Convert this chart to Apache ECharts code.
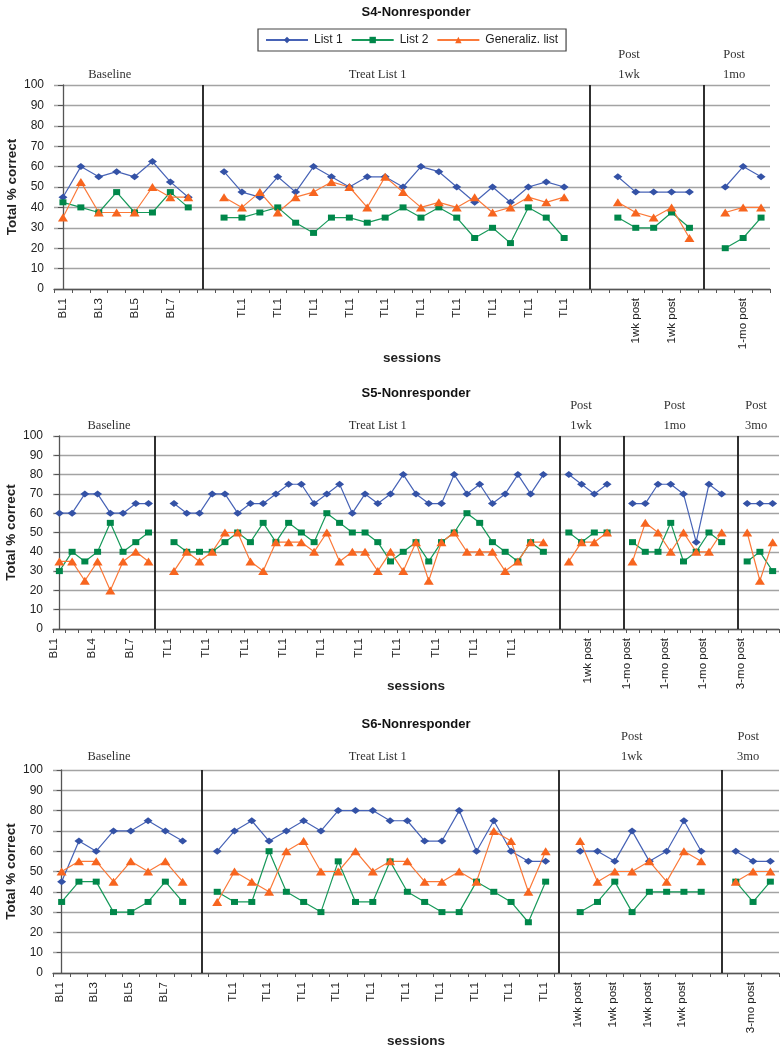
<!DOCTYPE html>
<html><head><meta charset="utf-8">
<script src="https://cdn.jsdelivr.net/npm/echarts@6/dist/echarts.min.js"></script>
<style>html,body{margin:0;padding:0;background:#fff}#c{width:784px;height:1050px}</style>
</head><body><div id="c"></div>
<script>
const rep = (s, n) => Array(n).fill(s);

// ---------- S4 ----------
const s4Categories = ['BL1','BL2','BL3','BL4','BL5','BL6','BL7','BL8','', ...rep('TL1',20), '', '', ...rep('1wk post',5), '', ...rep('1-mo post',3)];
const s4List1 = [45,60,55,57.5,55,62.5,52.5,45, null,
  57.5,47.5,45,55,47.5,60,55,50,55,55,50,60,57.5,50,42.5,50,42.5,50,52.5,50, null,null,
  55,47.5,47.5,47.5,47.5, null, 50,60,55];
const s4List2 = [42.5,40,37.5,47.5,37.5,37.5,47.5,40, null,
  35,35,37.5,40,32.5,27.5,35,35,32.5,35,40,35,40,35,25,30,22.5,40,35,25, null,null,
  35,30,30,37.5,30, null, 20,25,35];
const s4Gen = [35,52.5,37.5,37.5,37.5,50,45,45, null,
  45,40,47.5,37.5,45,47.5,52.5,50,40,55,47.5,40,42.5,40,45,37.5,40,45,42.5,45, null,null,
  42.5,37.5,35,40,25, null, 37.5,40,40];
const s4Phases = ['Baseline', 'Treat List 1', 'Post\n1wk', 'Post\n1mo'];

// ---------- S5 ----------
const s5Categories = ['BL1','BL2','BL3','BL4','BL5','BL6','BL7','BL8','', ...rep('TL1',30), '', ...rep('1wk post',4), '', ...rep('1-mo post',8), '', ...rep('3-mo post',3)];
const s5List1 = [60,60,70,70,60,60,65,65, null,
  65,60,60,70,70,60,65,65,70,75,75,65,70,75,60,70,65,70,80,70,65,65,80,70,75,65,70,80,70,80, null,
  80,75,70,75, null, 65,65,75,75,70,45,75,70, null, 65,65,65];
const s5List2 = [30,40,35,40,55,40,45,50, null,
  45,40,40,40,45,50,45,55,45,55,50,45,60,55,50,50,45,35,40,45,35,45,50,60,55,45,40,35,45,40, null,
  50,45,50,50, null, 45,40,40,55,35,40,50,45, null, 35,40,30];
const s5Gen = [35,35,25,35,20,35,40,35, null,
  30,40,35,40,50,50,35,30,45,45,45,40,50,35,40,40,30,40,30,45,25,45,50,40,40,40,30,35,45,45, null,
  35,45,45,50, null, 35,55,50,40,50,40,40,50, null, 50,25,45];
const s5Phases = ['Baseline', 'Treat List 1', 'Post\n1wk', 'Post\n1mo', 'Post\n3mo'];

// ---------- S6 ----------
const s6Categories = ['BL1','BL2','BL3','BL4','BL5','BL6','BL7','BL8','', ...rep('TL1',20), '', ...rep('1wk post',8), '', ...rep('3-mo post',3)];
const s6List1 = [45,65,60,70,70,75,70,65, null,
  60,70,75,65,70,75,70,80,80,80,75,75,65,65,80,60,75,60,55,55, null,
  60,60,55,70,55,60,75,60, null, 60,55,55];
const s6List2 = [35,45,45,30,30,35,45,35, null,
  40,35,35,60,40,35,30,55,35,35,55,40,35,30,30,45,40,35,25,45, null,
  30,35,45,30,40,40,40,40, null, 45,35,45];
const s6Gen = [50,55,55,45,55,50,55,45, null,
  35,50,45,40,60,65,50,50,60,50,55,55,45,45,50,45,70,65,40,60, null,
  65,45,50,50,55,45,60,55, null, 45,50,50];
const s6Phases = ['Baseline', 'Treat List 1', 'Post\n1wk', 'Post\n3mo'];

const yTicks = [0,10,20,30,40,50,60,70,80,90,100];

// ---------- layout (positions in axis units / pixels) ----------
const SANS = "'Liberation Sans', Arial, Helvetica, sans-serif";
const SERIF = "'Liberation Serif', 'Times New Roman', serif";
const panels = [
  { title: 'S4-Nonresponder', titleY: 12, cats: s4Categories, l1: s4List1, l2: s4List2, gen: s4Gen,
    phases: s4Phases, phaseAt: [2.61, 17.58, 31.62, 37.49], seps: [7.81, 29.44, 35.82],
    grid: { left: 54, top: 85, width: 716, height: 204 }, labelInterval: 1, nameGap: 62, secDist: 0,
    labelAlign: 'middle', labelLH: 14 },
  { title: 'S5-Nonresponder', titleY: 393, cats: s5Categories, l1: s5List1, l2: s5List2, gen: s5Gen,
    phases: s5Phases, phaseAt: [3.9, 25.0, 40.95, 48.3, 54.7], seps: [7.5, 39.25, 44.33, 53.23],
    grid: { left: 53, top: 436, width: 726, height: 193 }, labelInterval: 2, nameGap: 50, secDist: 0,
    labelAlign: 'bottom', labelLH: 12 },
  { title: 'S6-Nonresponder', titleY: 724, cats: s6Categories, l1: s6List1, l2: s6List2, gen: s6Gen,
    phases: s6Phases, phaseAt: [2.74, 18.29, 32.98, 39.72], seps: [8.1, 28.78, 38.16],
    grid: { left: 53, top: 770, width: 726, height: 203 }, labelInterval: 1, nameGap: 61, secDist: 3,
    labelAlign: 'bottom', labelLH: 4 }
];

const styles = {
  'List 1': { symbol: 'diamond', size: [9, 7], color: '#3452a6', line: '#4763b6' },
  'List 2': { symbol: 'rect', size: [7, 6], color: '#00874a', line: '#17995a' },
  'Generaliz. list': { symbol: 'triangle', size: [10, 8], color: '#f7651f', line: '#fb7a3a' }
};

const grids = [], xAxes = [], yAxes = [], series = [], graphics = [];
panels.forEach((p, i) => {
  grids.push(Object.assign({ containLabel: false, outerBoundsMode: 'none' }, p.grid));
  xAxes.push({
    type: 'category', gridIndex: i, data: p.cats, boundaryGap: true,
    name: 'sessions', nameLocation: 'middle', nameGap: p.nameGap, nameMoveOverlap: false,
    nameTextStyle: { fontFamily: SANS, fontWeight: 'bold', fontSize: 13.5, color: '#222' },
    axisLine: { show: true, lineStyle: { color: '#555', width: 1.3 } },
    axisTick: { show: true, interval: 0, length: 4, lineStyle: { color: '#555' } },
    axisLabel: { interval: p.labelInterval, rotate: 90, margin: 9, fontFamily: SANS, fontSize: 11.5, color: '#222',
      verticalAlign: p.labelAlign, lineHeight: p.labelLH },
    splitLine: { show: false }
  });
  xAxes.push({ type: 'value', gridIndex: i, min: -0.5, max: p.cats.length - 0.5, show: false });
  yAxes.push({
    type: 'value', gridIndex: i, min: 0, max: 100, interval: 10,
    name: 'Total % correct', nameLocation: 'middle', nameGap: 35, nameMoveOverlap: false,
    nameTextStyle: { fontFamily: SANS, fontWeight: 'bold', fontSize: 13.5, color: '#222' },
    axisLine: { show: true, lineStyle: { color: '#555', width: 1.3 } },
    axisTick: { show: true, length: 5, lineStyle: { color: '#555' } },
    axisLabel: { margin: 10, fontFamily: SANS, fontSize: 12, color: '#222',
      formatter: v => yTicks.includes(v) ? String(v) : '' },
    splitLine: { show: true, lineStyle: { color: '#a3a3a3', width: 1.4 } }
  });
  [['List 1', p.l1], ['List 2', p.l2], ['Generaliz. list', p.gen]].forEach(([name, data]) => {
    const s = styles[name];
    series.push({
      name, type: 'line', xAxisIndex: i * 2, yAxisIndex: i, data,
      symbol: s.symbol, symbolSize: s.size, showAllSymbol: true, connectNulls: false,
      itemStyle: { color: s.color }, lineStyle: { color: s.line, width: 1.2 },
      emphasis: { disabled: true }, z: 3
    });
  });
  series.push({
    type: 'line', xAxisIndex: i * 2 + 1, yAxisIndex: i, data: [], silent: true,
    markLine: {
      silent: true, symbol: ['none', 'none'], label: { show: false },
      lineStyle: { color: '#1a1a1a', width: 1.8, type: 'solid' },
      data: p.seps.map(x => ({ xAxis: x }))
    },
    markPoint: {
      silent: true, symbol: 'circle', symbolSize: 0,
      label: { show: true, position: 'top', distance: p.secDist, formatter: '{b}',
        fontFamily: SERIF, fontSize: 12.5, color: '#333', lineHeight: 20 },
      data: p.phases.map((n, k) => ({ name: n, coord: [p.phaseAt[k], 100] }))
    }
  });
  graphics.push({
    type: 'text', x: 416, y: p.titleY,
    style: { text: p.title, fontFamily: SANS, fontWeight: 'bold', fontSize: 13, fill: '#111',
      textAlign: 'center', textVerticalAlign: 'middle' }
  });
});

const chart = echarts.init(document.getElementById('c'), null, { renderer: 'canvas' });
chart.setOption({
  animation: false,
  backgroundColor: '#fff',
  grid: grids, xAxis: xAxes, yAxis: yAxes, series,
  graphic: graphics,
  legend: {
    data: ['List 1', 'List 2', 'Generaliz. list'],
    left: 258, top: 29, padding: [5, 8, 5, 7],
    borderColor: '#444', borderWidth: 1.2,
    itemWidth: 42, itemHeight: 8, itemGap: 8,
    textStyle: { fontFamily: SANS, fontSize: 12, color: '#222', padding: [0, 0, 0, 1] },
    selectedMode: false
  }
});
</script></body></html>
